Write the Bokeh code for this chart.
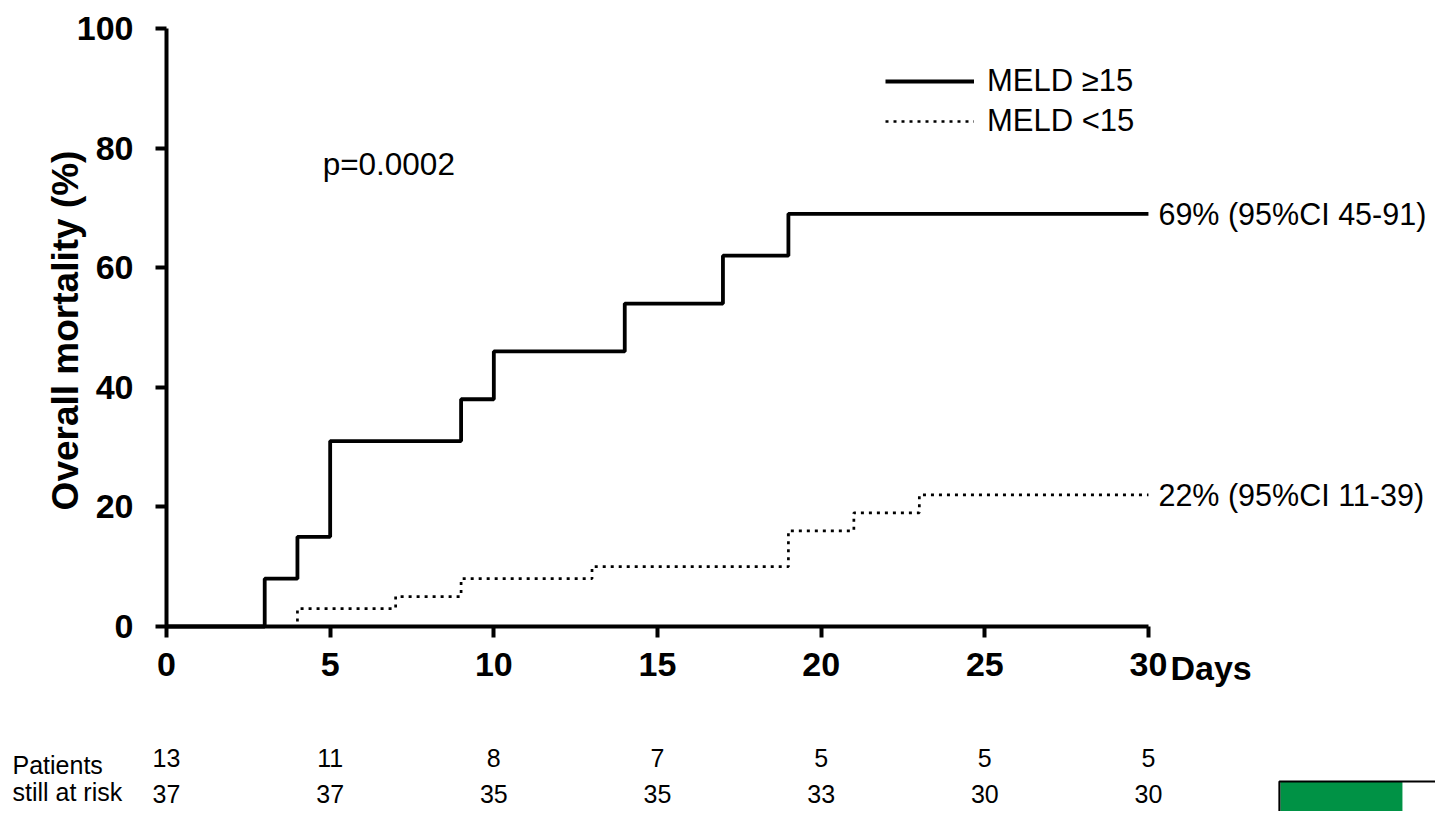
import math
from bokeh.plotting import figure
from bokeh.models import Range1d, FixedTicker, Legend, LegendItem, Label
from bokeh.core.properties import value
from bokeh.embed import file_html
from bokeh.resources import INLINE

# ---------------- data ----------------
high_days = [0, 3, 4, 5, 9, 10, 14, 17, 19, 30]
high_mort = [0, 8, 15, 31, 38, 46, 54, 62, 69, 69]
low_days = [0, 4, 7, 9, 13, 19, 21, 23, 30]
low_mort = [0, 3, 5, 8, 10, 16, 19, 22, 22]
series_names = ["MELD \u226515", "MELD <15"]
final_labels = ["69% (95%CI 45-91)", "22% (95%CI 11-39)"]
x_ticks = [0, 5, 10, 15, 20, 25, 30]
y_ticks = [0, 20, 40, 60, 80, 100]
risk_days = [0, 5, 10, 15, 20, 25, 30]
risk_high = [13, 11, 8, 7, 5, 5, 5]
risk_low = [37, 37, 35, 35, 33, 30, 30]
risk_title = ["Patients", "still at risk"]
p_value_text = "p=0.0002"
y_title = "Overall mortality (%)"
x_title = "Days"

FONT = "Liberation Sans"

p = figure(width=1435, height=811,
           x_range=Range1d(-5.072, 38.77), y_range=Range1d(-30.94, 104.68),
           output_backend="svg", toolbar_location=None, min_border=0)
p.xgrid.visible = False
p.ygrid.visible = False
p.outline_line_color = None
p.background_fill_color = "white"
p.border_fill_color = "white"

for ax in (p.xaxis, p.yaxis):
    ax.fixed_location = 0
    ax.axis_line_width = 4
    ax.axis_line_color = "black"
    ax.major_tick_line_width = 4
    ax.major_tick_line_color = "black"
    ax.major_tick_out = 11
    ax.major_tick_in = 0
    ax.minor_tick_line_color = None
    ax.major_label_text_font = FONT
    ax.major_label_text_font_style = "bold"
    ax.major_label_text_font_size = "34px"
    ax.major_label_text_color = "black"

p.xaxis.bounds = (x_ticks[0], x_ticks[-1])
p.xaxis.ticker = FixedTicker(ticks=x_ticks)
p.xaxis.major_label_standoff = 16
p.yaxis.bounds = (y_ticks[0], y_ticks[-1])
p.yaxis.ticker = FixedTicker(ticks=y_ticks)
p.yaxis.major_label_standoff = 22

# curves
r_high = p.step(high_days, high_mort, mode="after", line_color="black", line_width=3.8)
r_low = p.step(low_days, low_mort, mode="after", line_color="black", line_width=2.7,
               line_dash="3 5")

# final value labels
p.text(x=[high_days[-1], low_days[-1]], y=[high_mort[-1], low_mort[-1]], text=final_labels,
       x_offset=10, text_baseline="middle", text_align="left",
       text_font=value(FONT), text_font_size="30.5px", text_color="black")

# p-value
p.add_layout(Label(x=4.77, y=77.4, text=p_value_text, text_baseline="middle",
                   text_font=FONT, text_font_size="31.5px", text_color="black"))

# y-axis title
p.add_layout(Label(x=-3.1, y=49.5, text=y_title, angle=math.pi / 2,
                   text_align="center", text_baseline="middle",
                   text_font=FONT, text_font_style="bold", text_font_size="37px",
                   text_color="black"))

# x-axis title
p.text(x=[x_ticks[-1]], y=[-6.86], text=[x_title], x_offset=22,
       text_baseline="middle", text_align="left", text_font=value(FONT),
       text_font_style="bold", text_font_size="34px", text_color="black")

# risk table
p.text(x=risk_days, y=[-22.07] * len(risk_days), text=[str(v) for v in risk_high],
       text_align="center", text_baseline="middle", text_font=value(FONT),
       text_font_size="25px", text_color="black")
p.text(x=risk_days, y=[-27.93] * len(risk_days), text=[str(v) for v in risk_low],
       text_align="center", text_baseline="middle", text_font=value(FONT),
       text_font_size="25px", text_color="black")
p.text(x=[-4.705, -4.705], y=[-23.24, -27.76], text=risk_title,
       text_align="left", text_baseline="middle", text_font=value(FONT),
       text_font_size="25px", text_color="black")

# decorative green box (bottom-right, cropped in original)
p.quad(left=[34.03], right=[37.76], bottom=[-40], top=[-25.92],
       fill_color="#009245", line_color=None)
p.quad(left=[34.0], right=[45], bottom=[-40], top=[-25.92],
       fill_color=None, line_color="black", line_width=2)

legend = Legend(items=[LegendItem(label=series_names[0], renderers=[r_high]),
                       LegendItem(label=series_names[1], renderers=[r_low])],
                location=(885, 670), glyph_width=89, glyph_height=40, label_height=40,
                spacing=0, padding=0, margin=0, label_standoff=13,
                border_line_color=None, background_fill_alpha=0,
                label_text_font=FONT, label_text_font_size="31px",
                label_text_color="black")
p.add_layout(legend)

open("out.html", "w").write(file_html(p, INLINE))
